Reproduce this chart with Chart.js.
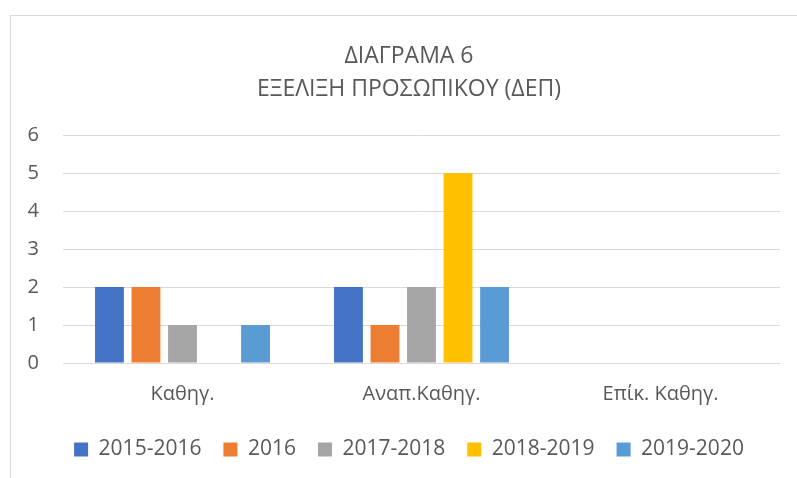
<!DOCTYPE html>
<html>
<head>
<meta charset="utf-8">
<script src="https://cdn.jsdelivr.net/npm/chart.js@4.4.0/dist/chart.umd.min.js"></script>
<style>
  html, body { margin: 0; padding: 0; background: #fff; overflow: hidden; }
  #frame {
    position: absolute; left: 10px; top: 15px;
    width: 796px; height: 470px;
    border-left: 1px solid #d9d9d9; border-top: 1px solid #d9d9d9;
  }
</style>
</head>
<body>
<div id="frame"><canvas id="chart" width="796" height="470"></canvas></div>
<script>
// ========== DATA ==========
const categories = ['Καθηγ.', 'Αναπ.Καθηγ.', 'Επίκ. Καθηγ.'];
const seriesNames = ['2015-2016', '2016', '2017-2018', '2018-2019', '2019-2020'];
const values2015_2016 = [2, 2, 0];
const values2016 = [2, 1, 0];
const values2017_2018 = [1, 2, 0];
const values2018_2019 = [0, 5, 0];
const values2019_2020 = [1, 2, 0];
const yTicks = [0, 1, 2, 3, 4, 5, 6];
const titleLines = ['ΔΙΑΓΡΑΜΑ 6', 'ΕΞΕΛΙΞΗ ΠΡΟΣΩΠΙΚΟΥ (ΔΕΠ)'];

const COLORS = ['#4472C4', '#ED7D31', '#A5A5A5', '#FFC000', '#5B9BD5'];
const TEXT = '#595959';
const GRID = '#d9d9d9';
const FONT = "'Open Sans', 'Noto Sans', sans-serif";

const allValues = [values2015_2016, values2016, values2017_2018, values2018_2019, values2019_2020];

const ctx = document.getElementById('chart');
new Chart(ctx, {
    type: 'bar',
    data: {
        labels: categories,
        datasets: seriesNames.map((name, i) => ({
            label: name,
            data: allValues[i],
            backgroundColor: COLORS[i],
            borderWidth: 0,
            categoryPercentage: 0.764,
            barPercentage: 0.79
        }))
    },
    options: {
        responsive: false,
        animation: false,
        devicePixelRatio: 1,
        layout: { padding: { left: 0, right: 0, top: 0, bottom: 16 } },
        scales: {
            x: {
                grid: { display: false, drawTicks: false },
                border: { display: false },
                ticks: { color: TEXT, font: { family: FONT, size: 20 }, padding: 19 },
                afterFit: (axis) => { axis.height = 54; }
            },
            y: {
                min: 0, max: 6,
                afterBuildTicks: (axis) => { axis.ticks = yTicks.map(v => ({ value: v })); },
                grid: { color: GRID, lineWidth: 1, drawTicks: false },
                border: { display: false },
                ticks: { color: TEXT, font: { family: FONT, size: 20 }, padding: 24 },
                afterFit: (axis) => { axis.width = 52; }
            },
            // empty right-hand strip so the title and legend stay centred on the whole frame
            yRight: {
                position: 'right',
                min: 0, max: 6,
                grid: { display: false, drawTicks: false },
                border: { display: false },
                ticks: { display: false },
                afterFit: (axis) => { axis.width = 27; }
            }
        },
        plugins: {
            title: {
                display: true,
                text: titleLines,
                color: TEXT,
                font: { family: FONT, size: 23, weight: 'normal', lineHeight: 1.435 },
                padding: { top: 24, bottom: 29 }
            },
            legend: {
                position: 'bottom',
                labels: {
                    color: TEXT,
                    font: { family: FONT, size: 21 },
                    boxWidth: 14, boxHeight: 14,
                    padding: 22
                }
            },
            tooltip: { enabled: false }
        }
    }
});
</script>
</body>
</html>
